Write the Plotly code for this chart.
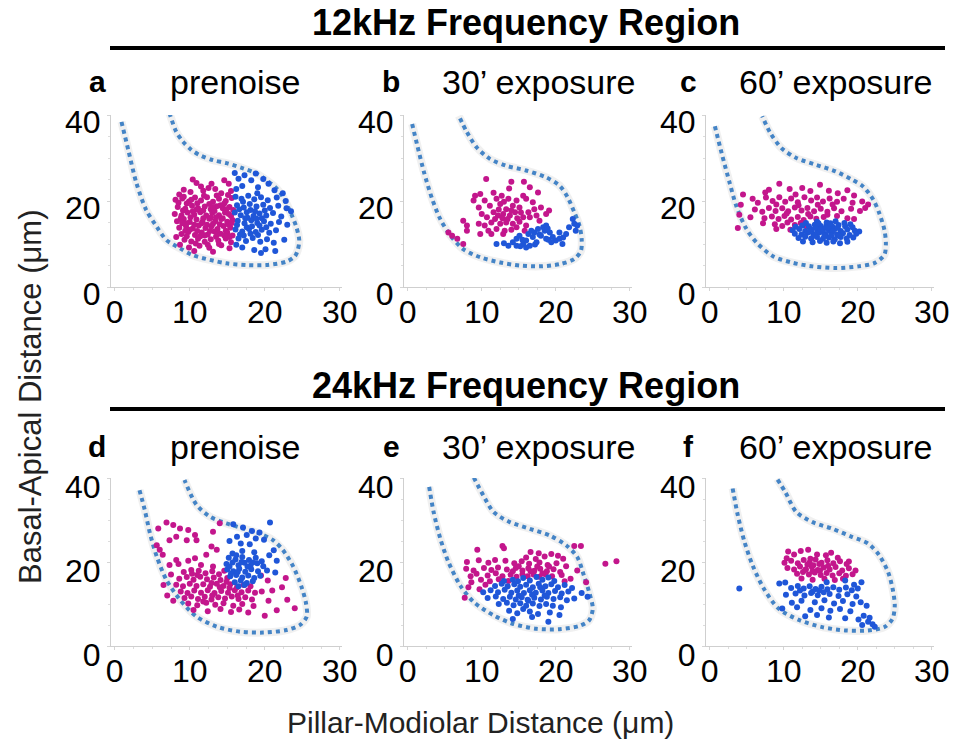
import plotly.graph_objects as go

FONT = "Liberation Sans, Arial, Helvetica, sans-serif"
MAGENTA = "#c3168c"
BLUE = "#1f56d8"
OUTLINE = "#4484c6"

# ---------------- data (x = pillar-modiolar µm, y = basal-apical µm) ----------------
# panel a : 12 kHz prenoise
a_magenta = [(10.4,25.0),(10.9,24.2),(14.6,24.8),(15.2,24.0),(12.5,23.0),
    (9.2,22.6),(10.1,22.1),(11.8,22.4),(13.4,22.8),(14.2,21.8),(15.5,22.3),(8.6,21.5),
    (8.1,20.3),(9.0,20.6),(9.9,19.9),(10.7,20.8),(11.5,20.1),(12.3,20.9),(13.1,19.8),(13.9,20.5),(14.8,20.0),(15.6,20.7),
    (8.4,18.6),(9.4,18.2),(10.3,18.9),(11.1,18.3),(12.0,18.7),(12.8,18.1),(13.6,18.8),(14.4,18.3),(15.3,18.6),(15.8,17.9),
    (8.0,17.0),(8.9,16.6),(9.7,17.3),(10.6,16.8),(11.4,17.4),(12.2,16.6),(13.0,17.2),(13.9,16.7),(14.7,17.3),(15.5,16.5),
    (8.3,15.3),(9.2,15.8),(10.0,15.1),(10.9,15.7),(11.7,15.2),(12.6,15.9),(13.4,15.3),(14.2,15.8),(15.0,15.2),(15.7,15.6),
    (8.6,13.8),(9.5,14.2),(10.4,13.6),(11.2,14.3),(12.1,13.7),(12.9,14.1),(13.7,13.5),(14.5,14.2),(15.4,13.8),
    (8.9,12.3),(9.8,12.8),(10.7,12.1),(11.6,12.7),(12.4,12.2),(13.3,12.9),(14.1,12.4),(15.0,12.6),(15.7,12.0),
    (9.3,11.0),(10.2,10.6),(11.1,11.2),(12.0,10.5),(12.8,11.1),(13.8,10.8),(14.8,11.3),(15.5,10.4),
    (8.7,9.8),(9.9,9.2),(11.3,9.6),(12.6,9.1),(14.2,9.7),(15.3,9.0),(10.6,8.4),(13.1,8.2),(8.2,11.6),
    (9.6,19.4),(11.0,19.5),(12.6,19.3),(14.1,19.0),(9.1,17.8),(10.9,18.0),(13.3,17.7),(14.9,18.1),
    (10.1,16.2),(12.8,16.1),(14.4,16.0),(9.5,14.8),(11.6,14.8),(13.1,14.7),(15.1,14.6),(10.0,13.3),
    (12.7,13.0),(14.8,13.1),(11.4,11.8),(13.5,11.7),
    (8.5,19.6),(10.2,20.3),(11.9,21.2),(13.6,21.3),(15.1,21.4),(8.8,16.0),(10.4,17.6),(11.8,16.0),(13.5,16.2),
    (15.2,17.0),(9.0,14.8),(10.6,14.5),(12.3,14.5),(14.0,14.6),(15.6,14.9),(9.4,13.1),(11.0,13.0),(12.0,12.0),
    (13.7,12.3),(15.3,11.6),(9.6,11.8),(10.8,10.1),(12.4,9.8),(13.9,10.0),(14.6,12.0),(11.8,17.8),(13.1,18.6),
    (14.6,19.4),(9.2,21.0),(12.9,24.0),(11.5,23.4)]
a_blue = [(16.0,26.5),(17.3,26.0),(18.8,26.4),(16.5,25.2),(18.2,24.8),(19.8,25.1),(20.5,24.0),(17.0,23.5),
    (16.2,22.8),(19.1,23.2),(21.3,22.5),(22.4,21.8),
    (16.1,21.0),(16.9,20.5),(17.8,21.2),(18.6,20.4),(19.5,20.9),(20.4,20.2),(21.6,20.8),(22.8,20.0),
    (16.3,19.0),(17.2,18.5),(18.0,19.3),(18.9,18.7),(19.8,19.1),(20.7,18.4),(21.8,18.9),(22.9,18.3),(23.5,17.6),
    (16.0,17.3),(16.8,16.7),(17.6,17.4),(18.5,16.5),(19.3,17.1),(20.2,16.6),(21.1,17.2),(22.2,16.4),
    (16.4,15.4),(17.3,14.8),(18.2,15.5),(19.0,14.9),(19.9,15.3),(20.8,14.7),(21.9,15.1),(23.0,14.5),
    (16.1,13.4),(17.0,12.9),(17.9,13.5),(18.8,12.8),(19.6,13.3),(20.6,12.6),(21.5,13.2),
    (16.5,11.3),(17.5,10.7),(18.4,11.4),(19.4,10.5),(20.3,11.1),(21.2,10.3),(22.6,11.0),
    (17.0,9.2),(18.6,8.6),(19.5,7.9),(20.1,8.8),(21.4,8.4),(16.2,9.8),
    (17.1,19.8),(19.0,21.8),(18.1,17.9),(20.0,17.8),(17.4,16.0),(19.6,16.0),(18.3,14.1),(20.2,13.9),
    (17.2,12.0),(19.1,12.1),
    (16.6,18.1),(17.7,16.1),(18.7,17.6),(16.3,14.4),(17.6,13.9),(18.9,15.9),(16.7,12.2),(18.1,12.4),(19.3,14.3)]

# panel b : 12 kHz 30' exposure
b_magenta = [(10.6,25.1),(14.0,24.5),(15.7,24.5),(13.7,22.9),(16.5,23.2),(9.1,21.2),(9.8,21.6),(11.6,21.9),
    (12.7,21.2),(15.6,21.2),(17.6,22.0),(8.9,20.1),(10.4,20.1),(12.0,20.5),(13.6,20.5),(14.7,20.1),(16.0,20.5),
    (16.9,19.7),(18.0,18.5),(19.1,17.8),(9.6,18.5),(11.1,18.9),(12.5,19.3),(13.3,18.1),(14.2,18.9),(15.1,18.5),
    (16.3,17.4),(17.1,18.1),(10.0,17.0),(10.7,16.2),(11.6,17.4),(12.2,16.6),(12.9,17.0),(13.8,16.6),(14.5,17.4),
    (15.6,16.2),(16.5,16.2),(9.6,14.7),(10.4,14.3),(11.3,15.0),(12.5,14.7),(13.3,15.0),(14.2,14.7),(15.1,15.2),
    (16.0,14.3),(17.4,16.6),(10.9,13.1),(12.0,13.5),(13.1,13.1),(14.0,13.3),(14.7,13.9),(9.8,12.3),(11.3,12.3),
    (12.9,12.3),(7.5,15.4),(8.0,14.3),(5.5,12.7),(6.0,11.9),(6.7,11.2),(7.5,10.0),(8.0,13.1),(17.8,15.4),
    (18.7,17.0),(15.8,13.1),(12.8,16.0),(13.5,15.8),(14.0,17.8),(12.3,18.0),(15.3,17.3),(13.0,19.8),
    (11.8,15.8),(14.8,16.0)]
b_blue = [(12.0,10.0),(13.6,9.6),(14.2,10.4),(14.7,11.2),(15.1,11.9),(15.6,10.0),(16.0,10.8),(16.5,9.6),
    (16.9,11.6),(17.1,12.7),(17.6,13.5),(18.3,13.9),(18.7,14.3),(18.0,11.9),(18.7,11.2),(19.2,12.7),(19.6,11.6),
    (20.0,10.8),(20.5,11.2),(20.9,10.0),(21.4,12.3),(21.8,13.9),(22.3,15.8),(22.5,14.7),(22.7,13.1),(22.9,14.3),
    (16.0,9.2),(14.7,9.6),(17.4,10.4),(16.3,12.3),(16.7,13.1),(18.5,13.1),(19.4,10.4),(20.5,12.7),
    (13.0,10.2),(15.5,11.0),(17.8,12.2),(19.0,11.0),(21.0,11.5),(18.9,13.6),(17.2,9.9),(15.2,9.5)]

# panel c : 12 kHz 60' exposure
c_magenta = [(9.4,24.0),(8.0,22.6),(7.5,22.0),(10.8,22.8),(12.5,23.0),(14.9,23.8),(16.1,22.4),(13.6,22.3),
    (18.6,22.5),(19.5,21.3),(17.3,21.8),(11.6,21.5),
    (5.8,20.5),(6.5,19.6),(7.6,20.8),(8.5,20.0),(9.4,20.9),(10.2,19.8),(11.0,20.6),(11.9,19.7),(12.8,20.9),
    (13.7,20.1),(14.5,20.8),(15.3,19.9),(16.2,20.6),(17.2,19.8),(18.1,20.5),(19.3,19.6),(20.6,19.9),(21.4,19.2),
    (6.1,18.0),(7.1,17.5),(8.0,18.4),(8.9,17.7),(9.8,18.3),(10.6,17.6),(11.5,18.5),(12.4,17.8),(13.2,18.4),
    (14.1,17.6),(15.0,18.2),(15.9,17.5),(16.8,18.3),(17.8,17.6),(19.1,18.2),(20.3,17.7),(21.0,18.4),
    (5.5,16.2),(7.4,16.0),(8.4,16.4),(9.3,15.8),(10.1,16.5),(11.0,15.7),(11.9,16.3),(12.7,15.6),(13.6,16.4),
    (14.4,15.9),(15.4,16.3),(18.6,16.0),(19.5,15.8),
    (8.8,14.6),(9.8,14.2),(10.5,15.0),(11.5,14.4),(12.3,14.9),(13.1,14.1),(7.2,14.8),(9.0,13.5),(10.9,13.3),
    (3.8,13.7),(4.2,19.1),(4.0,16.8),(4.5,21.5),
    (9.0,19.2),(12.0,19.0),(14.6,19.1),(16.6,19.2),(13.3,17.0),(15.9,16.8),(10.4,17.1),(17.2,16.5)]
c_blue = [(13.0,14.9),(14.5,15.2),(15.8,15.0),(17.0,15.3),(18.2,14.9),(19.0,14.6),
    (11.6,14.0),(12.5,14.3),(13.4,14.1),(14.2,14.5),(15.0,14.2),(15.8,14.5),(16.6,14.0),(17.4,14.4),(18.3,14.1),(19.3,13.9),
    (11.2,13.2),(12.1,13.5),(12.9,13.0),(13.8,13.4),(14.6,13.1),(15.4,13.6),(16.1,13.2),(16.9,13.5),(17.7,13.0),
    (18.6,13.4),(19.6,13.1),(20.2,12.9),
    (11.5,12.4),(12.4,12.2),(13.2,12.6),(14.0,12.3),(14.8,12.7),(15.6,12.3),(16.4,12.6),(17.2,12.2),(18.0,12.5),
    (18.9,12.1),(19.8,12.4),
    (12.0,11.4),(12.9,11.7),(13.7,11.3),(14.5,11.6),(15.3,11.2),(16.1,11.5),(16.9,11.1),(17.7,11.6),(18.5,11.3),(19.4,11.5),
    (12.6,10.6),(13.9,10.4),(14.9,10.7),(15.8,10.3),(16.7,10.6),(17.6,10.2),(18.6,10.5),
    (14.4,13.7),(15.2,12.9),(16.0,13.9),(16.6,12.9),(15.5,11.9),(14.2,12.0),(17.3,13.8),(13.5,12.9),(16.4,11.9),
    (15.0,13.4),(14.7,14.8),(16.3,14.8),(17.5,11.9)]

# panel d : 24 kHz prenoise
d_magenta = [(5.8,28.0),(6.9,29.4),(7.8,28.8),(8.7,28.0),(9.8,27.6),(10.7,26.4),(7.3,25.2),(8.2,26.0),(9.6,25.2),
    (10.9,25.2),(13.1,27.2),(14.0,29.2),(5.6,24.0),(6.0,22.9),(6.4,21.7),(7.3,19.3),(8.2,20.5),(10.7,20.9),
    (12.2,21.7),(12.9,23.7),(13.6,22.9),(13.1,18.9),(10.2,18.1),
    (9.2,17.6),(10.3,17.2),(11.2,17.9),(12.1,17.3),(13.0,17.8),(13.9,17.1),(14.6,17.9),
    (8.6,16.0),(9.6,16.4),(10.5,15.8),(11.4,16.5),(12.3,15.9),(13.2,16.3),(14.1,15.7),(15.0,16.2),
    (8.2,14.6),(9.1,14.2),(10.0,14.8),(10.9,14.3),(11.8,14.7),(12.7,14.1),(13.6,14.8),(14.5,14.3),(15.4,14.7),
    (16.3,14.0),(17.2,14.5),(18.1,14.2),
    (8.8,13.0),(9.7,12.6),(10.6,13.2),(11.5,12.7),(12.4,13.3),(13.3,12.6),(14.2,13.1),(15.1,12.7),(16.0,13.3),
    (16.9,12.8),(17.8,13.2),(18.7,12.7),(19.6,13.0),
    (9.3,11.4),(10.2,11.8),(11.1,11.2),(12.0,11.7),(12.9,11.1),(13.8,11.6),(14.7,11.3),(15.6,11.8),(16.5,11.2),
    (17.4,11.6),(18.3,11.1),
    (9.8,10.1),(11.0,9.7),(12.2,10.3),(13.4,9.8),(14.5,10.2),(15.8,9.6),(17.0,10.0),(18.5,9.5),
    (10.5,8.6),(12.4,8.3),(14.1,8.8),(15.5,8.1),(17.8,8.0),(16.6,8.7),
    (20.4,15.6),(21.0,13.2),(22.3,14.0),(23.0,11.0),(24.0,9.0),(20.5,10.8),(21.6,8.5),(20.0,7.2),(22.8,16.2),(19.5,16.8),
    (7.0,12.0),(7.8,10.8),(6.5,14.5),(7.5,17.0),(8.5,19.5),(9.8,20.3),(11.5,19.3),
    (11.0,16.9),(12.9,15.0),(14.0,14.0),(13.0,12.0),(15.3,13.8),(16.4,12.0),(11.8,10.6),(14.9,15.3)]
d_blue = [(15.8,29.0),(17.1,28.2),(18.3,27.4),(20.7,29.4),(19.3,27.0),(18.8,25.6),(17.6,26.4),(16.3,26.0),
    (15.3,25.0),(19.9,25.3),(18.0,24.2),(16.8,24.4),(21.2,22.8),(20.6,21.6),(21.6,20.3),(15.7,22.0),(17.0,22.6),(18.6,22.3),
    (15.2,21.0),(16.1,20.6),(17.0,21.2),(17.9,20.5),(18.8,21.0),(19.6,20.2),
    (14.9,19.5),(15.7,19.9),(16.5,19.2),(17.3,19.8),(18.1,19.1),(19.0,19.7),(19.8,19.0),
    (15.0,18.2),(15.8,17.8),(16.6,18.4),(17.4,17.7),(18.2,18.3),(19.1,17.8),(20.3,18.0),(21.4,17.5),
    (15.4,16.6),(16.2,16.9),(17.0,16.3),(17.8,16.8),(18.6,16.2),(19.4,16.7),
    (16.0,15.2),(16.8,15.6),(17.6,15.0),(18.4,15.4),(16.5,14.2),(17.3,14.5),
    (15.5,17.2),(16.4,17.6),(17.7,18.9),(16.9,20.0),(18.4,19.9),(16.2,21.6),(15.3,18.9)]

# panel e : 24 kHz 30' exposure
e_magenta = [(9.4,22.9),(12.8,23.8),(13.0,23.3),(16.6,22.4),(17.7,22.1),(18.5,21.3),(19.4,21.9),(20.3,21.5),
    (21.0,20.8),(22.5,23.8),(23.4,23.8),(16.0,21.1),(17.3,20.7),
    (8.0,20.0),(9.6,20.4),(10.9,19.8),(11.8,20.5),(13.2,20.3),(14.4,19.7),(15.4,20.2),(16.4,19.6),(17.8,19.9),
    (18.9,19.3),(20.1,19.7),(21.4,19.0),
    (7.9,18.4),(8.9,18.0),(10.3,18.6),(11.3,18.1),(12.2,18.7),(13.4,18.2),(14.6,18.6),(15.5,18.0),(16.3,18.5),
    (17.1,17.9),(17.9,18.4),(18.8,17.8),(19.7,18.3),(20.6,17.6),(22.9,18.0),
    (8.5,16.6),(9.3,17.2),(10.8,16.8),(11.9,17.3),(12.8,16.6),(13.9,17.0),(14.7,16.5),(15.5,17.1),(16.2,16.6),
    (17.0,17.0),(17.8,16.5),(18.6,17.1),(19.5,16.6),(20.8,16.9),
    (8.6,15.2),(9.9,15.8),(11.1,15.4),(12.3,15.9),(13.6,15.5),(21.2,15.4),(24.1,15.2),(22.0,16.0),
    (8.2,14.0),(9.7,13.5),(10.5,14.6),(7.7,11.5),(26.7,19.6),(28.2,20.2),
    (14.2,17.8),(16.6,17.8),(18.2,17.3),(15.0,19.0),(17.5,18.9),(19.1,18.9)]
e_blue = [(15.6,16.2),(16.5,15.6),(17.4,16.4),(18.2,15.8),(19.0,16.3),(19.8,15.5),(13.0,15.5),(14.2,15.8),
    (11.8,14.3),(12.7,14.8),(13.5,14.2),(14.4,14.7),(15.2,14.1),(16.0,14.6),(16.9,14.0),(17.7,14.8),(18.6,14.2),
    (19.4,14.7),(20.3,14.0),(21.2,14.5),(22.2,13.8),
    (10.2,12.8),(11.2,13.3),(12.2,12.8),(13.1,13.4),(14.0,12.7),(14.8,13.2),(15.7,12.6),(16.5,13.3),(17.3,12.7),
    (18.2,13.2),(19.0,12.6),(19.9,13.1),(20.8,12.5),(21.7,13.0),
    (10.8,11.4),(11.9,11.8),(12.9,11.2),(13.8,11.7),(14.6,11.1),(15.4,11.6),(16.2,11.0),(17.1,11.5),(18.0,11.1),
    (18.8,11.7),(19.7,11.2),(20.6,11.6),(21.5,10.9),
    (12.3,10.0),(13.4,10.3),(14.3,9.7),(15.2,10.2),(16.0,9.6),(16.9,10.1),(17.8,9.5),(18.7,10.0),(19.6,9.6),(20.7,9.2),
    (13.7,8.4),(14.8,7.8),(16.5,8.2),(17.6,7.6),(19.2,8.0),(20.5,7.4),(15.6,8.8),
    (14.2,6.4),(19.0,5.8),(16.8,6.9),(24.3,11.7),(23.5,12.6),(22.5,11.3),
    (15.0,12.0),(16.8,12.2),(17.9,14.0),(14.9,15.4),(18.5,12.0),(16.3,10.8)]

# panel f : 24 kHz 60' exposure
f_magenta = [(10.6,22.5),(11.4,21.8),(12.3,22.6),(13.3,22.9),(15.7,21.6),(16.4,22.2),(17.3,21.0),(18.8,20.1),
    (14.5,21.8),(10.4,20.9),
    (10.1,19.8),(11.0,20.3),(11.9,19.7),(12.7,20.5),(13.5,19.9),(14.3,20.6),(15.1,19.8),(15.9,20.4),(16.7,19.7),
    (17.6,20.2),(18.5,19.5),
    (10.5,18.6),(11.4,18.2),(12.2,18.9),(13.0,18.3),(13.8,18.8),(14.6,18.1),(15.4,18.7),(16.2,18.2),(17.0,18.8),
    (17.9,18.0),(18.8,18.5),(19.7,18.0),
    (11.8,17.2),(12.6,17.6),(13.4,17.0),(14.2,17.5),(15.0,16.9),(15.8,17.4),(16.6,16.8),(17.5,17.3),(18.4,16.7),(19.3,17.1),
    (12.4,16.1),(13.9,15.8),(15.5,16.0),(16.9,15.7),(18.0,16.0),
    (13.2,19.4),(14.0,19.2),(14.8,19.5),(13.6,20.8),(14.9,18.0),(12.9,18.1),(16.0,19.1),(13.9,17.8)]
f_blue = [(9.4,14.9),(10.2,15.1),(15.8,15.2),(18.3,15.6),(20.5,15.2),(19.5,14.6),
    (11.0,13.8),(11.9,14.3),(12.7,13.7),(13.5,14.2),(14.3,13.6),(15.1,14.1),(15.9,13.5),(16.7,14.0),(17.5,13.4),
    (18.4,13.9),(19.2,13.3),(20.0,13.7),
    (10.3,12.2),(11.6,12.5),(12.8,12.0),(13.7,12.6),(14.6,12.1),(16.2,12.4),(17.4,11.9),(18.6,12.3),(19.8,11.8),
    (11.1,10.3),(12.4,10.8),(14.2,10.4),(15.5,10.9),(16.8,10.1),(18.0,10.7),(19.3,10.0),(20.4,10.4),(21.2,9.6),
    (9.8,8.9),(11.8,9.2),(13.6,8.6),(15.1,9.0),(16.3,8.4),(17.6,8.8),(19.0,8.3),
    (12.9,7.1),(14.5,7.4),(16.1,6.8),(18.3,6.6),(20.1,6.3),(20.8,7.2),(21.4,5.8),(22.0,5.2),(21.6,6.7),(22.3,4.6),(20.6,5.0),
    (4.0,13.7),(13.9,13.0),(14.8,13.2),(15.4,12.8),(12.2,13.2)]

# hand-drawn dotted outline of the outer hair cell region, per panel
a_outline = [(0.9,38.4),(1.8,31.9),(2.9,24.1),(4.2,17.9),(5.6,14.0),(6.9,10.9),(8.7,9.0),(10.4,7.4),(12.7,6.3),
    (14.9,5.5),(17.6,5.1),(20.2,5.1),(22.9,5.9),(24.0,7.1),(24.4,8.6),(24.6,10.9),(24.2,14.0),(23.3,17.9),
    (22.4,21.0),(21.6,22.9),(20.2,24.9),(18.9,26.4),(17.1,27.6),(14.9,28.8),(13.1,29.5),(11.3,30.7),(10.2,31.9),
    (9.1,33.8),(8.2,36.1),(7.3,40.4)]
b_outline = [(0.6,37.9),(1.3,32.9),(2.2,26.7),(3.3,20.5),(4.4,15.8),(5.8,11.9),(7.5,8.8),(9.8,6.9),(12.5,5.7),
    (15.1,5.0),(17.8,4.8),(20.5,5.3),(22.5,6.5),(23.4,8.4),(23.5,11.2),(23.2,14.3),(22.5,17.4),(21.6,20.9),
    (20.5,23.6),(18.7,25.5),(16.0,27.1),(13.3,28.2),(11.1,29.8),(9.3,32.5),(8.0,36.0),(6.9,39.8)]
c_outline = [(0.7,37.4),(1.6,31.2),(2.7,24.2),(3.6,18.8),(4.9,13.7),(6.4,10.2),(8.6,7.1),(11.3,5.6),(13.9,4.8),
    (17.0,4.4),(20.1,4.8),(22.3,5.6),(23.6,7.5),(23.8,10.2),(23.6,13.3),(22.9,17.2),(22.1,20.3),(20.7,23.4),
    (19.2,25.0),(17.0,26.9),(14.4,28.4),(11.7,30.0),(9.7,32.3),(8.2,35.8),(7.1,39.7)]
d_outline = [(3.3,37.1),(4.0,32.4),(4.7,26.8),(5.6,21.3),(6.9,15.7),(8.7,11.0),(10.9,7.0),(13.6,4.6),(16.7,3.4),
    (19.8,3.2),(22.9,3.8),(24.7,5.0),(25.6,7.0),(25.5,10.2),(24.9,14.1),(23.8,18.9),(22.4,22.9),(21.1,25.2),
    (19.3,26.8),(17.1,28.0),(14.9,29.2),(12.7,30.8),(10.9,33.6),(9.3,39.5)]
e_outline = [(2.9,37.9),(3.5,31.9),(4.4,25.6),(5.5,20.0),(7.1,14.4),(8.9,10.5),(11.6,7.3),(14.2,5.3),(17.4,4.1),
    (20.5,4.0),(23.2,4.8),(24.5,6.1),(25.0,8.9),(24.5,12.9),(23.8,16.8),(22.9,21.2),(21.4,24.0),(19.2,26.3),
    (16.5,27.9),(13.8,29.5),(11.6,31.9),(10.2,35.9),(8.9,40.2)]
f_outline = [(3.1,37.5),(3.8,31.1),(4.7,24.8),(5.8,19.2),(7.3,13.7),(9.3,8.9),(12.2,6.1),(15.2,4.5),(18.3,3.7),
    (21.4,3.7),(23.6,4.5),(24.7,6.5),(25.0,9.7),(24.7,13.7),(24.1,17.6),(22.9,21.6),(21.4,24.4),(19.2,26.0),
    (16.6,27.9),(13.9,29.5),(11.7,31.9),(10.2,36.7),(9.1,39.8)]

panel_letters = ["a", "b", "c", "d", "e", "f"]
panel_titles = ["prenoise", "30\u2019 exposure", "60\u2019 exposure",
                "prenoise", "30\u2019 exposure", "60\u2019 exposure"]
region_titles = ["12kHz Frequency Region", "24kHz Frequency Region"]
x_ticks = [0, 10, 20, 30]
y_ticks = [0, 20, 40]
x_label = "Pillar-Modiolar Distance (\u03bcm)"
y_label = "Basal-Apical Distance (\u03bcm)"

panels = [
    (a_outline, a_magenta, a_blue), (b_outline, b_magenta, b_blue), (c_outline, c_magenta, c_blue),
    (d_outline, d_magenta, d_blue), (e_outline, e_magenta, e_blue), (f_outline, f_magenta, f_blue),
]

# ---------------- layout geometry (pixels of the 959 x 746 page) ----------------
W, H = 959, 746
def px(v):
    return v / W
def py(v):
    return 1 - v / H

col_px = [(111, 342), (404, 632), (706, 934)]
row_px = [(115, 287), (478, 646)]
row_label_shift = [7, 9]
letter_x = [97, 391, 688]
sub_x = [235, 538, 835]
row_text_y = [82, 447]
title_y = [22, 385]
rule_y = [48, 409]

fig = go.Figure()
for i, (outline, mag, blu) in enumerate(panels):
    r, c = divmod(i, 3)
    sfx = "" if i == 0 else str(i + 1)
    xa, ya = "x" + sfx, "y" + sfx
    ox, oy = zip(*outline)
    fig.add_trace(go.Scatter(x=ox, y=oy, mode="lines", xaxis=xa, yaxis=ya, hoverinfo="skip",
                             line=dict(color="rgba(160,160,160,0.16)", width=8, shape="spline", smoothing=0.8),
                             showlegend=False))
    fig.add_trace(go.Scatter(x=ox, y=oy, mode="lines", xaxis=xa, yaxis=ya,
                             line=dict(color=OUTLINE, width=4, dash="4px,4px", shape="spline", smoothing=0.8),
                             showlegend=False))
    mx, my = zip(*mag)
    fig.add_trace(go.Scatter(x=mx, y=my, mode="markers", xaxis=xa, yaxis=ya,
                             marker=dict(color=MAGENTA, size=6, line=dict(width=0)), showlegend=False))
    bx, by = zip(*blu)
    fig.add_trace(go.Scatter(x=bx, y=by, mode="markers", xaxis=xa, yaxis=ya,
                             marker=dict(color=BLUE, size=6, line=dict(width=0)), showlegend=False))

    axis_common = dict(showgrid=False, zeroline=False, showline=True, linecolor="#cfcfcf", linewidth=1,
                       ticks="outside", ticklen=3, tickcolor="#d5d5d5", automargin=False,
                       tickfont=dict(family=FONT, size=32, color="black"))
    fig.layout["xaxis" + sfx] = dict(axis_common, domain=[px(col_px[c][0]), px(col_px[c][1])],
                                     range=[-0.5, 30.3], tickvals=x_ticks, anchor=ya,
                                     ticklabelstandoff=-6,
                                     minor=dict(dtick=2.5, ticks="outside", ticklen=2, tickcolor="#dddddd"))
    fig.layout["yaxis" + sfx] = dict(axis_common, domain=[py(row_px[r][1]), py(row_px[r][0])],
                                     range=[0, 40], tickvals=y_ticks, anchor=xa,
                                     ticklabelshift=row_label_shift[r],
                                     minor=dict(dtick=5, ticks="outside", ticklen=2, tickcolor="#dddddd"))

annotations = []
for i in range(6):
    r, c = divmod(i, 3)
    annotations.append(dict(text="<b>%s</b>" % panel_letters[i], x=px(letter_x[c]), y=py(row_text_y[r]),
                            xref="paper", yref="paper", showarrow=False, xanchor="center", yanchor="middle",
                            font=dict(family=FONT, size=30, color="black")))
    annotations.append(dict(text=panel_titles[i], x=px(sub_x[c]), y=py(row_text_y[r]),
                            xref="paper", yref="paper", showarrow=False, xanchor="center", yanchor="middle",
                            font=dict(family=FONT, size=34, color="black")))
for r in range(2):
    annotations.append(dict(text="<b>%s</b>" % region_titles[r], x=px(526), y=py(title_y[r]),
                            xref="paper", yref="paper", showarrow=False, xanchor="center", yanchor="middle",
                            font=dict(family=FONT, size=36, color="black")))
annotations.append(dict(text=x_label, x=px(480), y=py(722), xref="paper", yref="paper", showarrow=False,
                        xanchor="center", yanchor="middle", font=dict(family=FONT, size=30, color="#222")))
annotations.append(dict(text=y_label, x=px(30), y=py(397), xref="paper", yref="paper", showarrow=False,
                        textangle=-90, xanchor="center", yanchor="middle",
                        font=dict(family=FONT, size=31, color="#222")))

shapes = [dict(type="line", xref="paper", yref="paper", x0=px(110), x1=px(945), y0=py(y), y1=py(y),
               line=dict(color="black", width=4)) for y in rule_y]

fig.update_layout(width=W, height=H, margin=dict(l=0, r=0, t=0, b=0, autoexpand=False),
                  paper_bgcolor="white", plot_bgcolor="white", annotations=annotations, shapes=shapes,
                  showlegend=False)

fig.write_html("out.html", config={"displayModeBar": False},
               post_script="document.body.style.margin='0';document.body.style.overflow='hidden';")
